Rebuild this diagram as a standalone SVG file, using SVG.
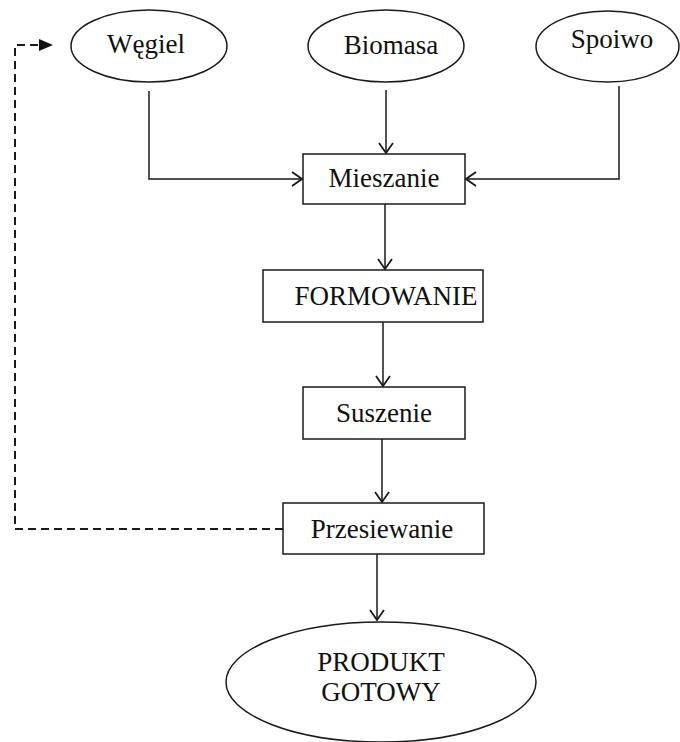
<svg xmlns="http://www.w3.org/2000/svg" width="680" height="742" viewBox="0 0 680 742">
<style>
.shape{fill:#fff;stroke:#1a1a1a;stroke-width:1.5}
.t{font-family:"Liberation Serif","Times New Roman",serif;font-size:27px;fill:#111;text-anchor:middle}
.c{fill:none;stroke:#1a1a1a;stroke-width:1.5}
.d{fill:none;stroke:#1a1a1a;stroke-width:2;stroke-dasharray:8,5}
</style>
<defs>
<marker id="open" viewBox="0 0 12 16" refX="11" refY="8" markerWidth="12" markerHeight="16" markerUnits="userSpaceOnUse" orient="auto">
<path d="M1,1 L11,8 L1,15" fill="none" stroke="#1a1a1a" stroke-width="1.8"/>
</marker>
</defs>
<rect width="680" height="742" fill="#fff"/>
<g id="connectors">
<path class="c" d="M149,91 V179 H302" marker-end="url(#open)"/>
<path class="c" d="M386,90 V153" marker-end="url(#open)"/>
<path class="c" d="M619,86 V179 H466" marker-end="url(#open)"/>
<path class="c" d="M385,204 V269" marker-end="url(#open)"/>
<path class="c" d="M383,322 V386" marker-end="url(#open)"/>
<path class="c" d="M382,439 V502" marker-end="url(#open)"/>
<path class="c" d="M377,554 V620" marker-end="url(#open)"/>
<path class="d" d="M283,529 H15 V45 H40"/>
<path d="M39,39 L53,45 L39,51 Z" fill="#111"/>
</g>
<g id="wegiel">
<ellipse class="shape" cx="149" cy="46" rx="78" ry="36"/>
<text class="t" x="146" y="53">Węgiel</text>
</g>
<g id="biomasa">
<ellipse class="shape" cx="386" cy="46" rx="78" ry="36"/>
<text class="t" x="391" y="54">Biomasa</text>
</g>
<g id="spoiwo">
<ellipse class="shape" cx="607.5" cy="46.5" rx="71.5" ry="35.5"/>
<text class="t" x="612" y="48">Spoiwo</text>
</g>
<g id="mieszanie">
<rect class="shape" x="303" y="154" width="162" height="50"/>
<text class="t" x="384" y="187">Mieszanie</text>
</g>
<g id="formowanie">
<rect class="shape" x="263" y="270" width="220" height="52"/>
<text class="t" x="386" y="305">FORMOWANIE</text>
</g>
<g id="suszenie">
<rect class="shape" x="303" y="387" width="162" height="52"/>
<text class="t" x="384" y="422">Suszenie</text>
</g>
<g id="przesiewanie">
<rect class="shape" x="283" y="503" width="201" height="51"/>
<text class="t" x="382" y="538">Przesiewanie</text>
</g>
<g id="produkt">
<ellipse class="shape" cx="381" cy="682" rx="155" ry="60"/>
<text class="t" x="381" y="671">PRODUKT</text>
<text class="t" x="381" y="701">GOTOWY</text>
</g>
</svg>
